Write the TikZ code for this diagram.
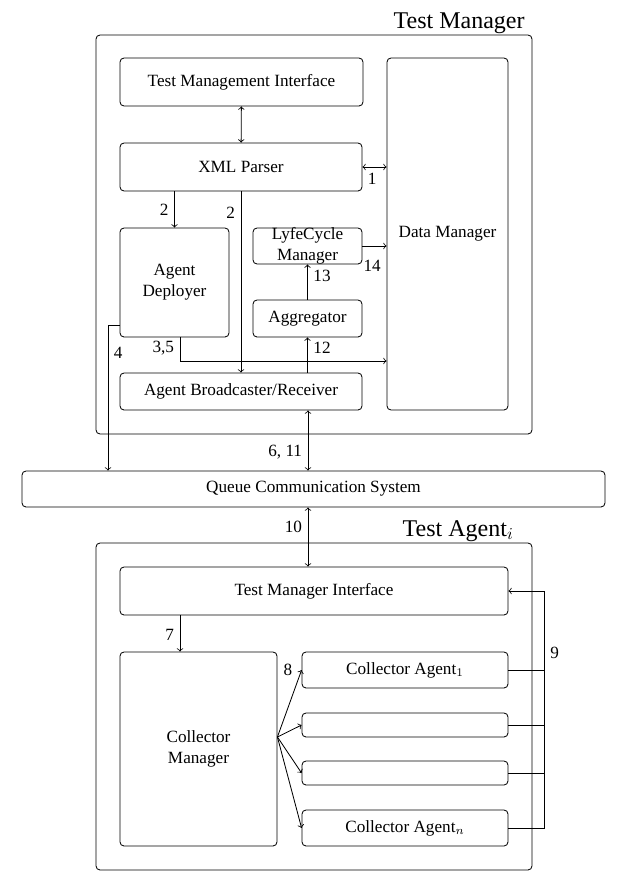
\documentclass[tikz,border=0pt]{standalone}
\usepackage{fontspec}
\setmainfont{Liberation Serif}
\usetikzlibrary{positioning}

\begin{document}
\begin{tikzpicture}[
  x=0.6pt, y=-0.6pt,
  >=to,
  line width=0.5pt,
  every node/.style={font=\fontsize{10.3}{12.4}\selectfont},
  box/.style={draw, rounded corners=2.4pt, align=center, inner sep=2pt},
  frame/.style={draw, rounded corners=2.4pt},
  title/.style={font=\Large, anchor=base east, inner sep=0pt}
]
\useasboundingbox (0,0) rectangle (637,887);

% Frames
\node[frame, minimum width=261.6pt, minimum height=239.4pt] (tmframe) at (314,234.5) {};
\node[frame, minimum width=261.6pt, minimum height=196.2pt] (taframe) at (314,706.5) {};
\node[title] (tmtitle) at (525,28) {Test Manager};
\node[title] (tatitle) at (514,536) {Test Agent$_i$};

% Test manager
\node[box, minimum width=145.8pt, minimum height=28.8pt] (tmgi) at (241.5,82) {Test Management Interface};
\node[box, minimum width=145.2pt, minimum height=28.8pt] (xml) at (241,167) {XML Parser};
\node[box, minimum width=72.6pt, minimum height=211.2pt] (dm) at (447.5,234) {Data Manager};
\node[box, minimum width=65.4pt, minimum height=65.4pt] (ad) at (174.5,282.5) {Agent\\Deployer};
\node[box, minimum width=65.4pt, minimum height=21.6pt] (lcm) at (307.5,246) {};
\node[align=center] (lcmtext) at (lcm) {LyfeCycle\\Manager};
\node[box, minimum width=65.4pt, minimum height=22.2pt] (agg) at (307.5,318.5) {Aggregator};
\node[box, minimum width=145.2pt, minimum height=22.2pt] (abr) at (241,391.5) {Agent Broadcaster/Receiver};

% Queue
\node[box, minimum width=349.8pt, minimum height=21.6pt] (queue) at (313.5,489) {Queue Communication System};

% Test agent
\node[box, minimum width=232.8pt, minimum height=28.8pt] (tmi) at (314,591) {Test Manager Interface};
\node[box, minimum width=94.2pt, minimum height=116.4pt] (cm) at (198.5,749) {Collector\\Manager};
\node[box, minimum width=123.6pt, minimum height=21.6pt] (ca1) at (405,670) {Collector Agent$_1$};
\node[box, minimum width=123.6pt, minimum height=14.4pt] (ca2) at (405,725) {};
\node[box, minimum width=123.6pt, minimum height=14.4pt] (ca3) at (405,773) {};
\node[box, minimum width=123.6pt, minimum height=21.6pt] (can) at (405,828) {Collector Agent$_n$};

\coordinate (j35) at (180,361);
\coordinate (j4) at (108,325);
\coordinate (bus) at (308,489);
\coordinate (fan) at ([yshift=7.2pt]cm.east);
\coordinate (ret) at ([xshift=21.6pt]tmi.east);

% Arrows test manager
\draw[<->] (tmgi) -- (xml);
\draw[<->] (xml.east) -- (xml.east -| dm.west) node[pos=0.4, below] {1};
\draw[->] (xml.south -| ad.north) -- (ad.north) node[midway, left] {2};
\draw[->] (xml.south) -- (abr.north) node[pos=0.12, left] {2};
\draw[->] (ad.south -| j35) -- node[pos=0.45, left] {3,5} (j35) -- (j35 -| dm.west);
\draw[->] (ad.west |- j4) -- (j4) -- node[pos=0.19, right] {4} (j4 |- queue.north);
\draw[->] (abr.north -| agg) -- (agg) node[pos=0.7, right] {12};
\draw[->] (agg) -- (lcm) node[pos=0.67, right] {13};
\draw[->] (lcm.east) -- (lcm.east -| dm.west) node[pos=0.4, below=5pt] {14};
\draw[<->] (bus |- abr.south) -- (bus |- queue.north) node[pos=0.7, left] {6, 11};

% Arrows test agent
\draw[<->] (bus |- queue.south) -- (bus |- tmi.north) node[pos=0.33, left] {10};
\draw[->] ([xshift=-11.1pt]cm.north |- tmi.south) -- ([xshift=-11.1pt]cm.north) node[pos=0.55, left] {7};
\draw[->] (fan) -- (ca1.west) node[at end, left=2pt] {8};
\foreach \ca in {ca2,ca3,can}
  \draw[->] (fan) -- (\ca.west);
\foreach \ca in {ca1,ca2,ca3}
  \draw (\ca.east) -- (\ca.east -| ret);
\draw[->] (can.east) -| node[pos=0.87, right] {9} (ret) -- (tmi.east);

\end{tikzpicture}
\end{document}
